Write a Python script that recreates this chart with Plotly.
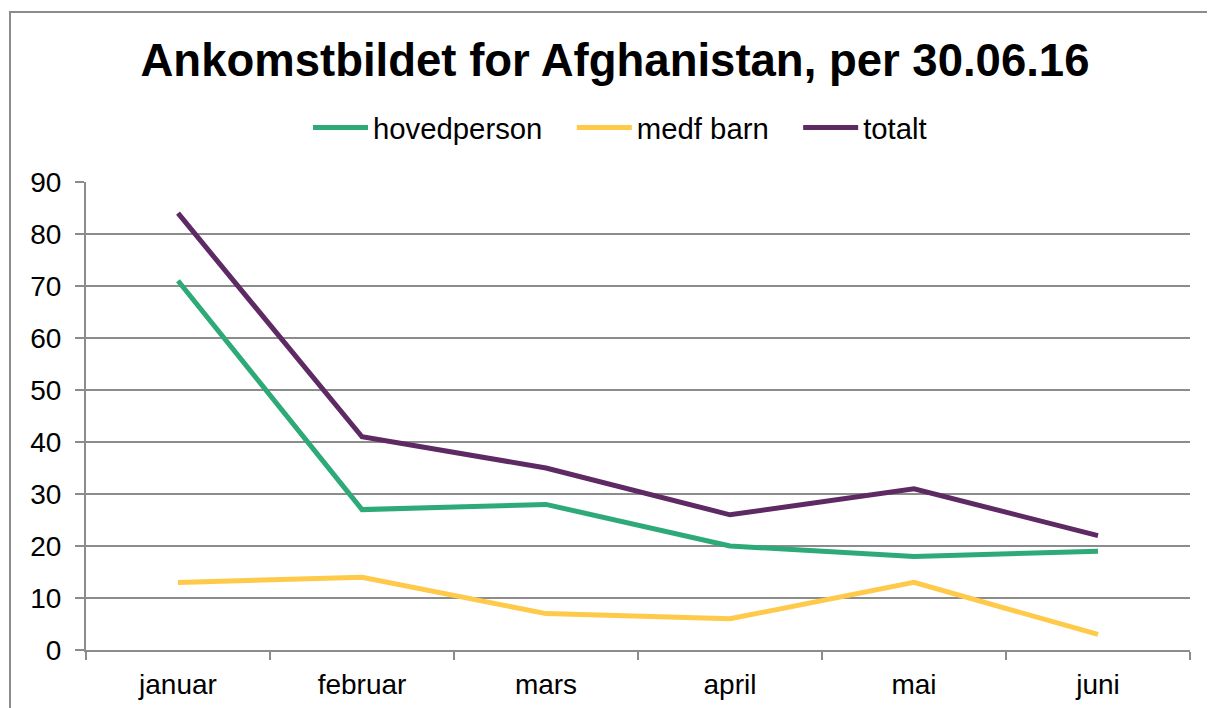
import plotly.graph_objects as go

months = ["januar", "februar", "mars", "april", "mai", "juni"]
hovedperson = [71, 27, 28, 20, 18, 19]
medf_barn = [13, 14, 7, 6, 13, 3]
totalt = [84, 41, 35, 26, 31, 22]

series = [
    ("hovedperson", hovedperson, "#2EAA78"),
    ("medf barn", medf_barn, "#FFC94A"),
    ("totalt", totalt, "#5E2A64"),
]

fig = go.Figure()
for i, (name, vals, color) in enumerate(series):
    label = name + ("\u00a0" * 3 if i < len(series) - 1 else "")
    fig.add_trace(go.Scatter(x=months, y=vals, name=label, mode="lines",
                             line=dict(color=color, width=5)))

# page offset (browser body margin)
OFF = 8
W, H = 1215, 708
# target plot area in screenshot pixels
PX0, PX1, PY0, PY1 = 86, 1190, 182, 650
L = PX0 - OFF
T = PY0 - OFF
R = W - (PX1 - OFF)
B = H - (PY1 - OFF)
pw, ph = PX1 - PX0, PY1 - PY0

def px_x(p):
    return (p - PX0) / pw

def px_y(p):
    return (PY1 - p) / ph

fig.update_layout(
    width=W, height=H,
    margin=dict(l=L, r=R, t=T, b=B),
    paper_bgcolor="white", plot_bgcolor="white",
    font=dict(family="Liberation Sans, Arial, sans-serif", color="black", size=28),
    title=dict(text="<b>Ankomstbildet for Afghanistan, per 30.06.16</b>",
               x=px_x(615), xanchor="center", xref="paper",
               y=(H - (60 - OFF)) / H, yanchor="middle",
               font=dict(size=45.5, color="black")),
    legend=dict(orientation="h", x=px_x(620), xanchor="center", y=px_y(128), yanchor="middle",
                font=dict(size=29.3), itemwidth=55, bgcolor="rgba(0,0,0,0)"),
    showlegend=True,
    xaxis=dict(type="category", range=[-0.5, 5.5], showgrid=False,
               showline=True, linecolor="#8C8C8C", linewidth=2,
               ticks="outside", tickson="boundaries", ticklen=8, tickcolor="#8C8C8C",
               tickwidth=2, tickfont=dict(size=28), ticklabelstandoff=8, fixedrange=True),
    yaxis=dict(range=[0, 90], dtick=10, showgrid=True, gridcolor="#8C8C8C", gridwidth=2,
               showline=True, linecolor="#8C8C8C", linewidth=2,
               ticks="outside", ticklen=9, tickcolor="#8C8C8C", tickwidth=2,
               tickfont=dict(size=28), ticklabelstandoff=8, zeroline=False, fixedrange=True),
    shapes=[dict(type="rect", xref="paper", yref="paper",
                 x0=px_x(10), x1=px_x(1230), y0=px_y(720), y1=px_y(12),
                 line=dict(color="#8C8C8C", width=2), fillcolor="rgba(0,0,0,0)",
                 layer="below")],
)

fig.write_html("out.html")
